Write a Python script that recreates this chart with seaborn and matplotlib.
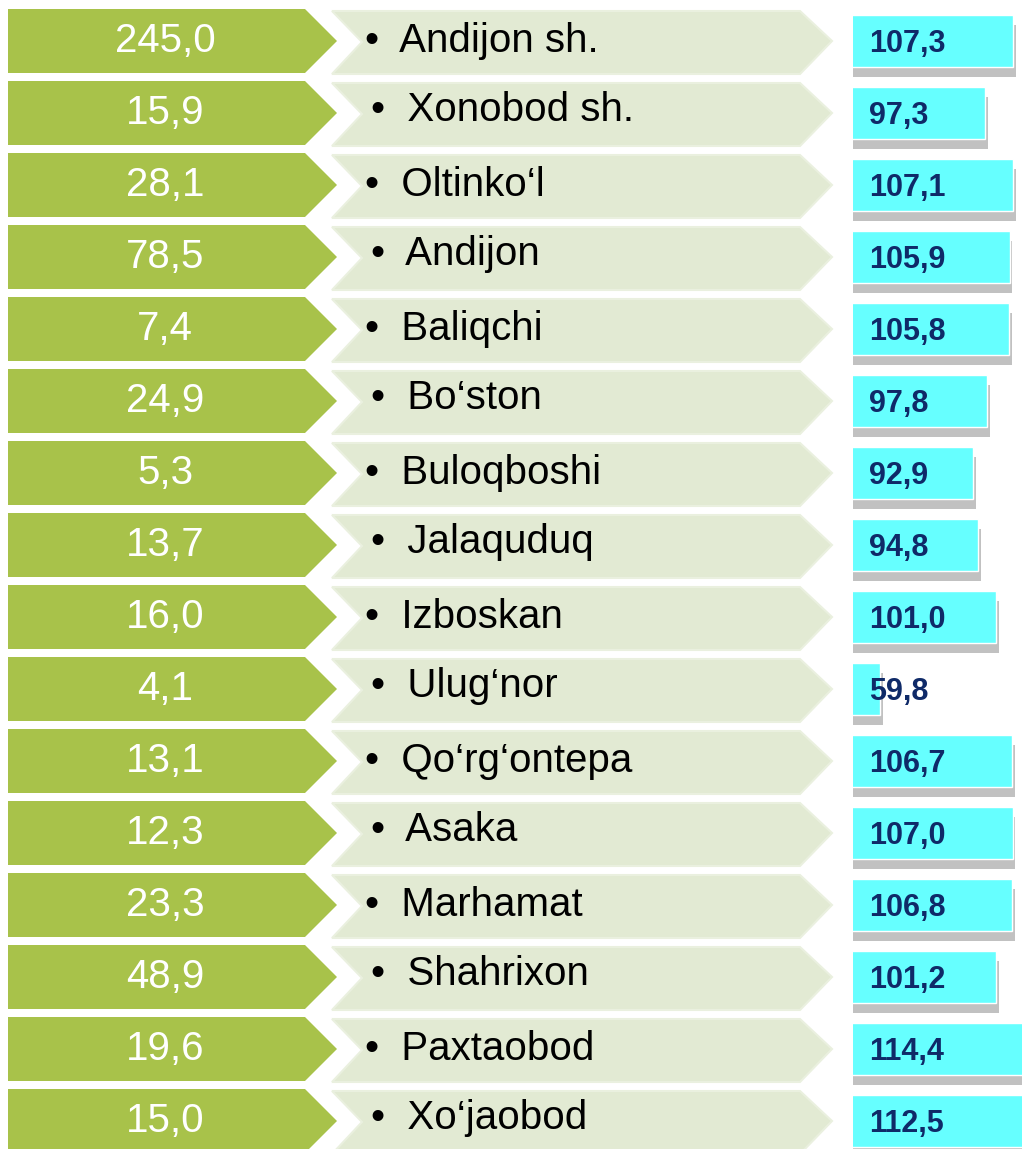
import matplotlib
matplotlib.use("Agg")
import matplotlib.pyplot as plt
import matplotlib.patheffects as pe
from matplotlib.patches import Polygon
import seaborn as sns
import pandas as pd

# data
districts = ["Andijon sh.", "Xonobod sh.", "Oltinko\u2018l", "Andijon", "Baliqchi",
             "Bo\u2018ston", "Buloqboshi", "Jalaquduq", "Izboskan", "Ulug\u2018nor",
             "Qo\u2018rg\u2018ontepa", "Asaka", "Marhamat", "Shahrixon", "Paxtaobod",
             "Xo\u2018jaobod"]
volume = ["245,0", "15,9", "28,1", "78,5", "7,4", "24,9", "5,3", "13,7", "16,0",
          "4,1", "13,1", "12,3", "23,3", "48,9", "19,6", "15,0"]
growth = [107.3, 97.3, 107.1, 105.9, 105.8, 97.8, 92.9, 94.8, 101.0, 59.8,
          106.7, 107.0, 106.8, 101.2, 114.4, 112.5]

green = "#A8C24A"
pale = "#E2EAD3"
cyan = "#66FFFF"
navy = "#0F2A68"

sns.set_theme(style="white")
plt.rcParams["font.family"] = ["Liberation Sans", "DejaVu Sans"]

W, H = 1022, 1149
fig = plt.figure(figsize=(W / 100, H / 100), dpi=100)

# background axis in pixel coordinates for the arrow shapes
ax = fig.add_axes([0, 0, 1, 1])
ax.set_xlim(0, W)
ax.set_ylim(H, 0)
ax.axis("off")

pitch = 72
for i, (name, vol) in enumerate(zip(districts, volume)):
    yc = 41 + i * pitch
    ax.add_patch(Polygon([(8, yc - 32), (305, yc - 32), (337, yc), (305, yc + 32),
                          (8, yc + 32)], closed=True, facecolor=green, edgecolor="none"))
    ax.add_patch(Polygon([(332, yc - 30), (800, yc - 30), (832, yc), (800, yc + 33),
                          (332, yc + 33), (362, yc + 1)], closed=True,
                         facecolor=pale, edgecolor="#EAF0DF", linewidth=1.5))
    ax.text(165, yc, vol, color="white", fontsize=29, ha="center", va="center")
    dx = 6 if i % 2 else 0
    dy = -3 if i % 2 else 0
    ax.text(365 + dx, yc + dy, "\u2022  " + name, color="black", fontsize=29,
            ha="left", va="center")

# growth bars on their own axis, left edge of the axis is 50
px_per_unit = 2.8
df = pd.DataFrame({"district": districts, "growth": growth})
ax2 = fig.add_axes([853 / W, 0, (W - 853) / W, 1])
ax2.patch.set_alpha(0)
sns.barplot(data=df, x="growth", y="district", orient="h", color=cyan,
            saturation=1, width=0.725, ax=ax2)
ax2.set_xlim(50, 50 + (W - 853) / px_per_unit)
ax2.set_ylim((H - 41) / pitch, -41 / pitch)
ax2.axis("off")
for bar in ax2.patches:
    bar.set_path_effects([pe.SimplePatchShadow(offset=(2, -7), shadow_rgbFace="#666666",
                                               alpha=0.4), pe.Normal()])

label_x = 50 + (869 - 853) / px_per_unit
for i, v in enumerate(growth):
    ax2.text(label_x, i + 3 / pitch, f"{v:.1f}".replace(".", ","), color=navy,
             fontsize=22, fontweight="bold", ha="left", va="center", zorder=5,
             clip_on=False)

fig.savefig("out.png", dpi=100)
